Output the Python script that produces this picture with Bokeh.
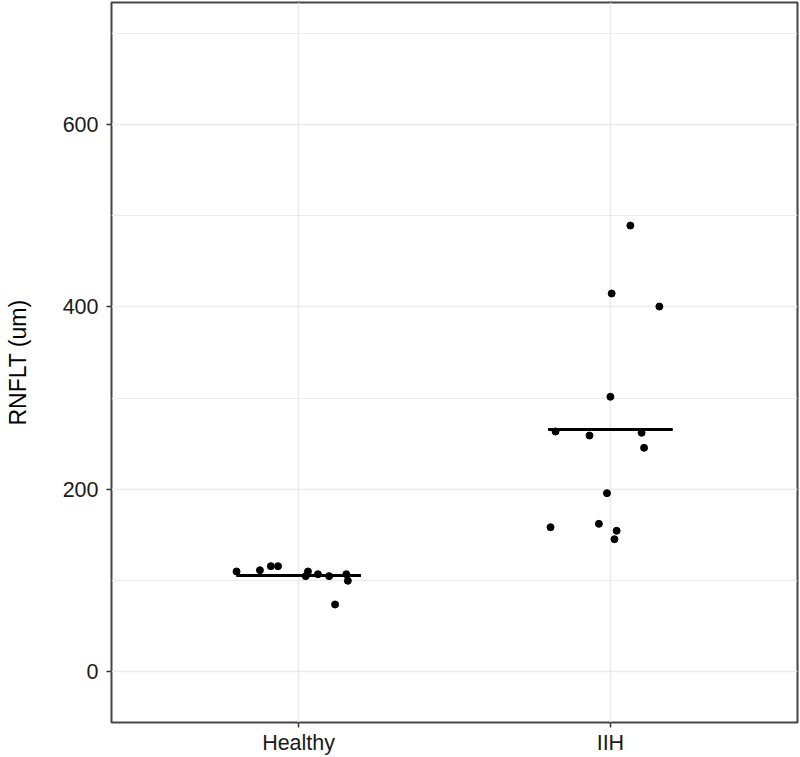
from bokeh.plotting import figure
from bokeh.models import FixedTicker, Range1d
from bokeh.embed import file_html
from bokeh.resources import INLINE

# ---- data ----
groups = ["Healthy", "IIH"]
healthy_values = [109.7, 111.1, 115.5, 115.5, 109.7, 104.6, 106.7, 104.6, 106.7, 99.5, 73.5]
healthy_jitter = [-0.199, -0.124, -0.089, -0.066, 0.030, 0.023, 0.062, 0.098, 0.153, 0.158, 0.117]
iih_values = [263.3, 258.9, 261.9, 245.4, 195.6, 158.3, 162.0, 154.4, 145.1, 414.7, 400.4, 301.4, 489.3]
iih_jitter = [-0.176, -0.067, 0.100, 0.108, -0.011, -0.192, -0.037, 0.020, 0.013, 0.004, 0.157, 0.0, 0.064]
y_ticks = [0, 200, 400, 600]
y_minor = [100, 300, 500, 700]
y_label = "RNFLT (um)"

series = [healthy_values, iih_values]
jitters = [healthy_jitter, iih_jitter]

FONT = "Liberation Sans"

p = figure(width=800, height=757, output_backend="svg", toolbar_location=None,
           x_range=Range1d(0.4, 2.6), y_range=Range1d(-56, 734),
           min_border_left=111, min_border_right=3, min_border_top=2, min_border_bottom=34)

xs, ys = [], []
means, x0, x1 = [], [], []
for i, (vals, jit) in enumerate(zip(series, jitters)):
    pos = i + 1
    xs += [pos + j for j in jit]
    ys += vals
    m = sum(vals) / len(vals)
    means.append(m)
    x0.append(pos - 0.2)
    x1.append(pos + 0.2)

p.segment(x0=x0, y0=means, x1=x1, y1=means, line_color="black", line_width=3)
p.scatter(x=xs, y=ys, size=7, fill_color="black", line_color="black")

# axes
p.xaxis.ticker = FixedTicker(ticks=[1, 2])
p.xaxis.major_label_overrides = {1: groups[0], 2: groups[1]}
p.yaxis.ticker = FixedTicker(ticks=y_ticks, minor_ticks=y_minor)
p.yaxis.axis_label = y_label

for ax in (p.xaxis[0], p.yaxis[0]):
    ax.axis_line_color = None
    ax.major_tick_line_color = "#333333"
    ax.major_tick_line_width = 1.5
    ax.major_tick_in = 0
    ax.major_tick_out = 5
    ax.minor_tick_line_color = None
    ax.major_label_text_font = FONT
    ax.major_label_text_font_size = "21.5px"
    ax.major_label_text_color = "#1a1a1a"

p.yaxis.major_label_standoff = 8
p.xaxis.major_label_standoff = 3
p.yaxis.axis_label_text_font = FONT
p.yaxis.axis_label_text_font_size = "23px"
p.yaxis.axis_label_text_font_style = "normal"
p.yaxis.axis_label_text_color = "black"
p.yaxis.axis_label_standoff = 29

# grids
p.xgrid.ticker = FixedTicker(ticks=[1, 2])
p.xgrid.grid_line_color = "#EBEBEB"
p.xgrid.grid_line_width = 1.5
p.ygrid.ticker = FixedTicker(ticks=y_ticks, minor_ticks=y_minor)
p.ygrid.grid_line_color = "#EBEBEB"
p.ygrid.grid_line_width = 1.5
p.ygrid.minor_grid_line_color = "#EBEBEB"
p.ygrid.minor_grid_line_width = 1.2

p.outline_line_color = "#444444"
p.outline_line_width = 2
p.background_fill_color = "white"
p.border_fill_color = "white"

open("out.html", "w").write(file_html(p, INLINE))
